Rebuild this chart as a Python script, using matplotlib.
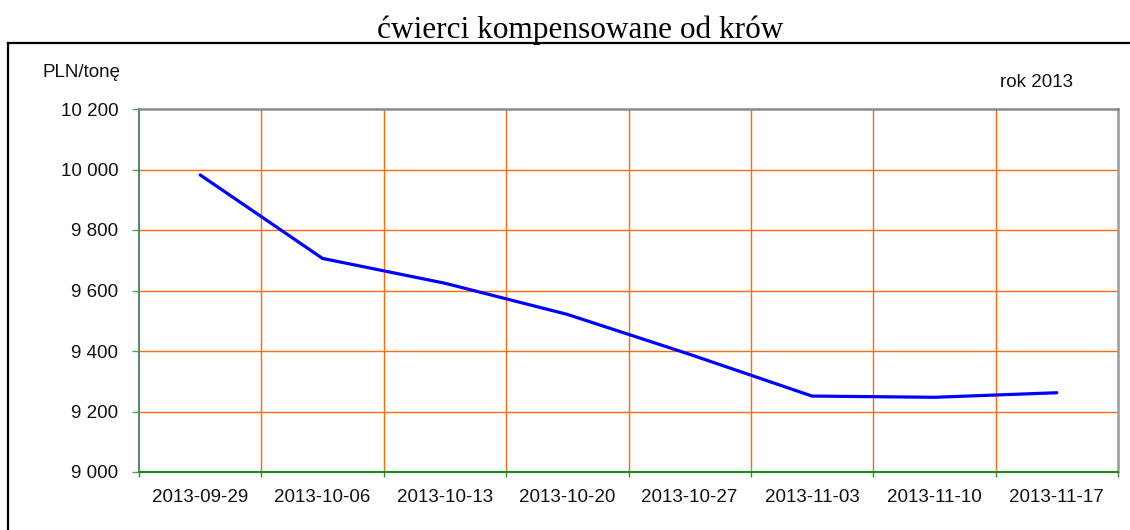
import matplotlib
matplotlib.use("Agg")
import matplotlib.pyplot as plt
from matplotlib.lines import Line2D
from matplotlib.ticker import FuncFormatter, FixedLocator

title = "ćwierci kompensowane od krów"
y_label = "PLN/tonę"
note = "rok 2013"
dates = ["2013-09-29", "2013-10-06", "2013-10-13", "2013-10-20",
         "2013-10-27", "2013-11-03", "2013-11-10", "2013-11-17"]
prices = [9982, 9706, 9624, 9521, 9389, 9251, 9247, 9262]
y_ticks = [9000, 9200, 9400, 9600, 9800, 10000, 10200]

W, H = 1130, 530
fig = plt.figure(figsize=(W / 100, H / 100), dpi=100)
ax = fig.add_axes([139 / W, 1 - 472 / H, (1118 - 139) / W, (472 - 109) / H])

sans = "Liberation Sans"
orange = "#FF6A10"

x = [i + 0.5 for i in range(len(dates))]
ax.plot(x, prices, color="#0000FF", lw=2.3, solid_capstyle="round", zorder=3)

ax.set_xlim(0, len(dates))
ax.set_ylim(y_ticks[0], y_ticks[-1])

# grid
for yv in y_ticks[1:-1]:
    ax.axhline(yv, color=orange, lw=1.0, zorder=1)
for k in range(1, len(dates)):
    ax.axvline(k, color=orange, lw=1.0, zorder=1)

ax.yaxis.set_major_locator(FixedLocator(y_ticks))
ax.yaxis.set_major_formatter(FuncFormatter(lambda v, p: f"{int(v):,}".replace(",", " ")))
ax.xaxis.set_major_locator(FixedLocator(range(len(dates) + 1)))
ax.xaxis.set_major_formatter(FuncFormatter(lambda v, p: ""))
ax.xaxis.set_minor_locator(FixedLocator(x))
ax.set_xticklabels(dates, minor=True)

ax.tick_params(axis="y", length=5, width=1, color="#5E9A74", pad=10,
               labelsize=13.5, labelcolor="#111111")
ax.tick_params(axis="x", which="major", length=3.5, width=1, color="#2E8B2E", pad=0)
ax.tick_params(axis="x", which="minor", length=0, pad=12, labelsize=13.5, labelcolor="#111111")
for lab in ax.get_yticklabels() + ax.get_xticklabels(minor=True):
    lab.set_fontfamily(sans)

ax.spines["left"].set_color("#5A8A6E")
ax.spines["left"].set_linewidth(1.5)
ax.spines["bottom"].set_color("#1E8A1E")
ax.spines["bottom"].set_linewidth(1.5)
ax.spines["top"].set_color("#888888")
ax.spines["top"].set_linewidth(1.8)
ax.spines["right"].set_color("#999999")
ax.spines["right"].set_linewidth(1.8)

fig.text(580 / W, 1 - 38 / H, title, ha="center", va="baseline",
         fontsize=22.5, family="Liberation Serif", color="#000000")
fig.text(43 / W, 1 - 77 / H, y_label, ha="left", va="baseline",
         fontsize=13.5, family=sans, color="#111111")
fig.text(1073 / W, 1 - 87 / H, note, ha="right", va="baseline",
         fontsize=13.5, family=sans, color="#111111")

# outer frame
fig.add_artist(Line2D([8 / W, 1.0], [1 - 43 / H, 1 - 43 / H], color="black", lw=1.6,
                      transform=fig.transFigure))
fig.add_artist(Line2D([8 / W, 8 / W], [1 - 43 / H, 0.0], color="black", lw=1.6,
                      transform=fig.transFigure))

fig.savefig("out.png", dpi=100)
